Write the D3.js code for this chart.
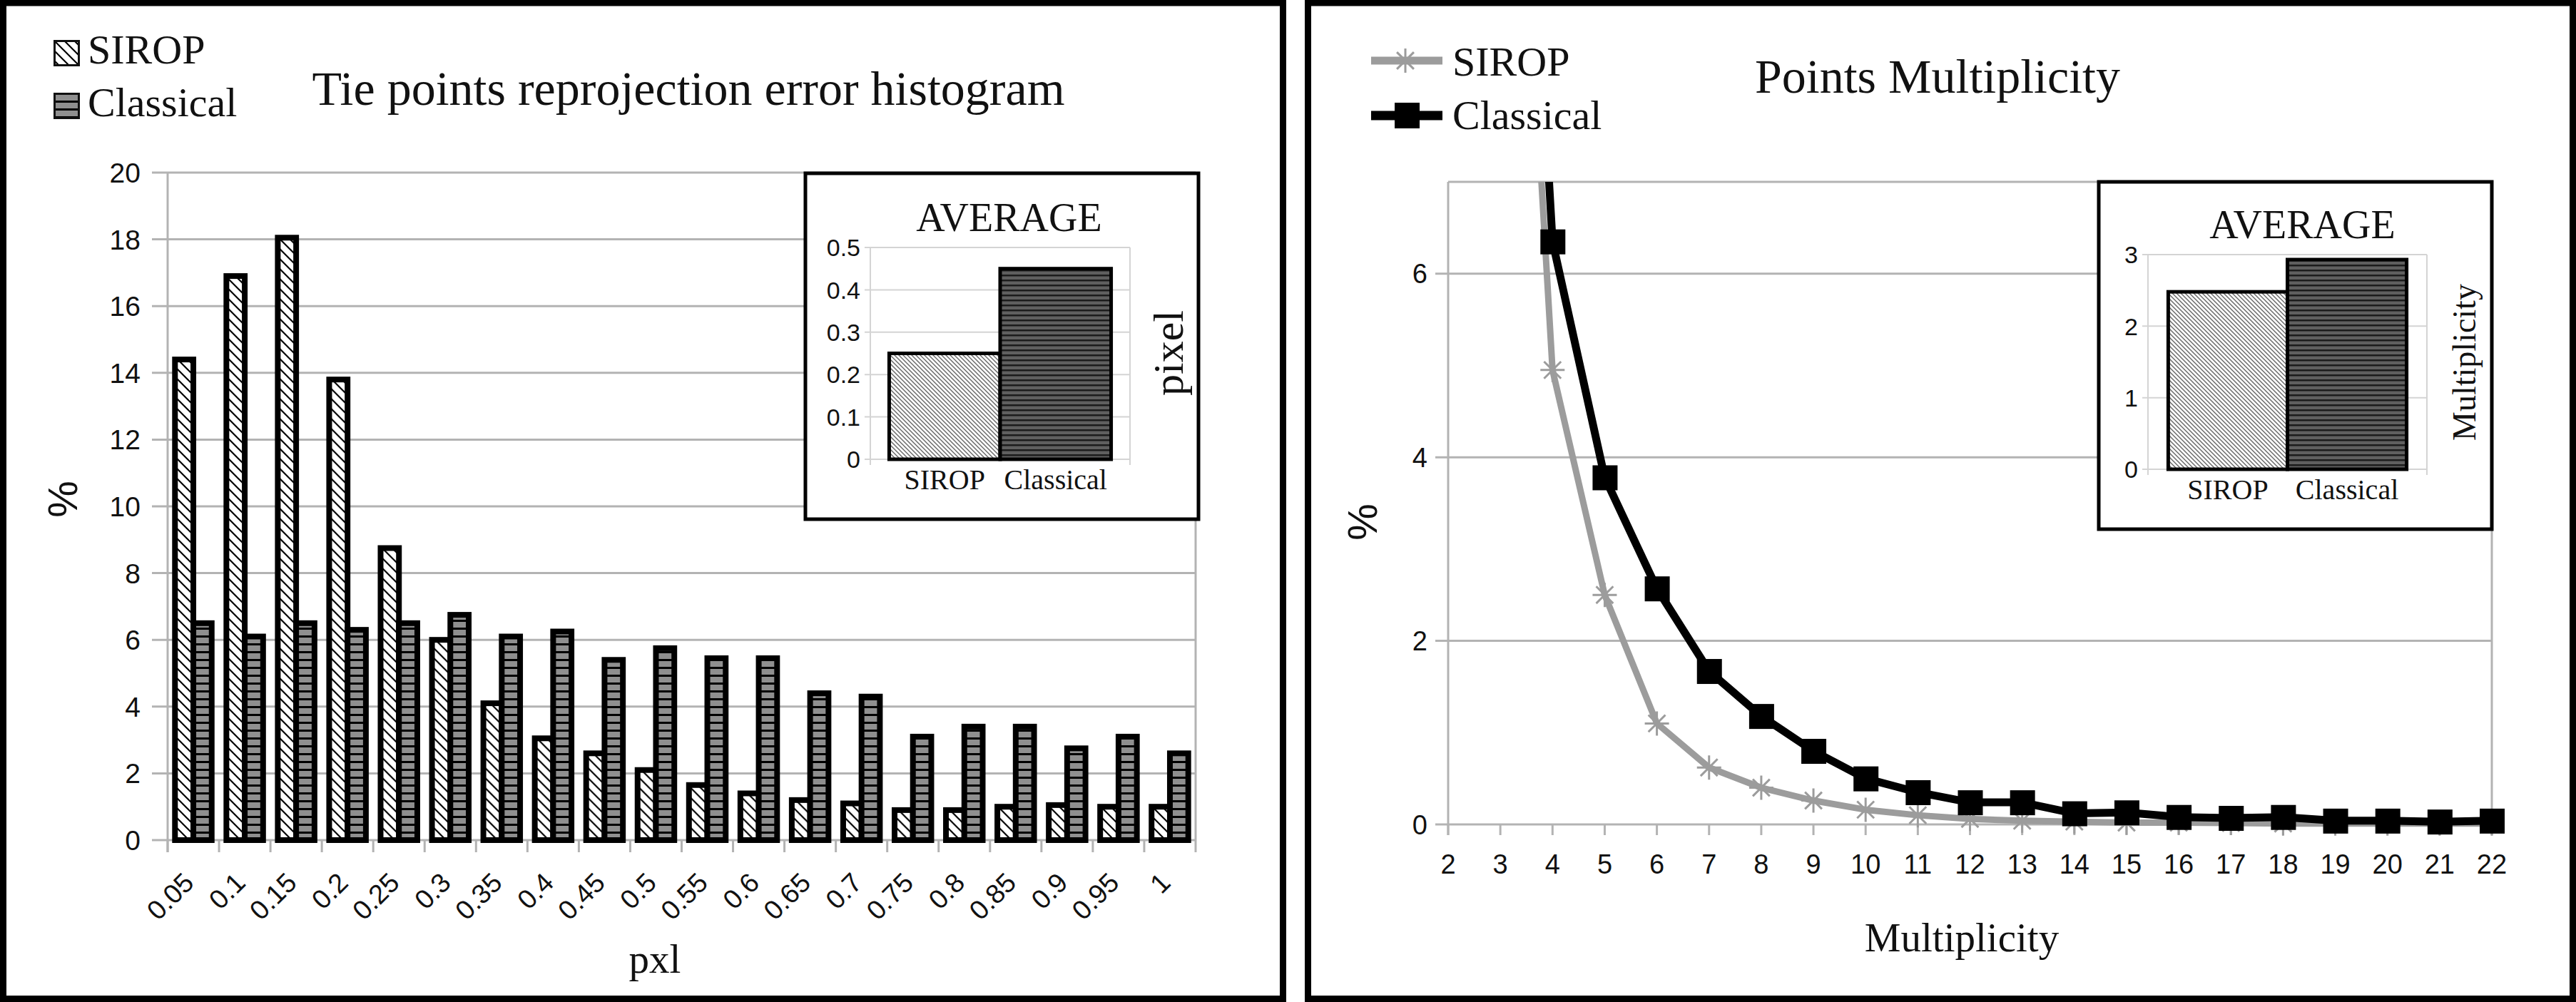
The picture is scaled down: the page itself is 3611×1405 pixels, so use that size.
<!DOCTYPE html>
<html>
<head>
<meta charset="utf-8">
<script src="https://cdn.jsdelivr.net/npm/d3@7"></script>
<style>
body { margin: 0; background: #fff; }
svg { display: block; }
</style>
</head>
<body>
<svg id="chart"></svg>
<script>
var W = 3611, H = 1405;

// ---- data: reprojection error histogram ----
var bins = ["0.05", "0.1", "0.15", "0.2", "0.25", "0.3", "0.35", "0.4", "0.45", "0.5",
            "0.55", "0.6", "0.65", "0.7", "0.75", "0.8", "0.85", "0.9", "0.95", "1"];
var siropHist = [14.4, 16.9, 18.05, 13.8, 8.75, 6.0, 4.1, 3.05, 2.6, 2.1,
                 1.65, 1.4, 1.2, 1.1, 0.9, 0.9, 1.0, 1.05, 1.0, 1.0];
var classicalHist = [6.5, 6.1, 6.5, 6.3, 6.5, 6.75, 6.1, 6.25, 5.4, 5.75,
                     5.45, 5.45, 4.4, 4.3, 3.1, 3.4, 3.4, 2.75, 3.1, 2.6];
var histTicks = [0, 2, 4, 6, 8, 10, 12, 14, 16, 18, 20];

// ---- data: average reprojection error ----
var avgNames = ["SIROP", "Classical"];
var avgError = [0.25, 0.45];
var errTicks = [0, 0.1, 0.2, 0.3, 0.4, 0.5];

// ---- data: points multiplicity ----
var multiplicity = [2, 3, 4, 5, 6, 7, 8, 9, 10, 11, 12, 13, 14, 15, 16, 17, 18, 19, 20, 21, 22];
var siropMult = [75.0, 14.6, 4.95, 2.5, 1.1, 0.62, 0.4, 0.26, 0.16, 0.1, 0.06,
                 0.04, 0.03, 0.02, 0.02, 0.015, 0.01, 0.01, 0.01, 0.01, 0.01];
var classicalMult = [65.5, 16.2, 6.35, 3.78, 2.57, 1.67, 1.18, 0.8, 0.5, 0.35, 0.24,
                     0.24, 0.12, 0.13, 0.08, 0.07, 0.08, 0.04, 0.04, 0.03, 0.04];
var multTicks = [0, 2, 4, 6];

// ---- data: average multiplicity ----
var avgMult = [2.48, 2.93];
var avgMultTicks = [0, 1, 2, 3];

var serif = "'Liberation Serif', 'Times New Roman', serif";
var sans = "'Liberation Sans', Arial, sans-serif";
var gridColor = "#b3b3b3";
var siropGray = "#9c9c9c";

var svg = d3.select("#chart")
    .attr("width", W)
    .attr("height", H)
    .attr("viewBox", "0 0 " + W + " " + H);

// ---- fill patterns ----
var defs = svg.append("defs");

var p = defs.append("pattern").attr("id", "hatchBig")
    .attr("patternUnits", "userSpaceOnUse").attr("width", 14).attr("height", 14);
p.append("rect").attr("width", 14).attr("height", 14).attr("fill", "#fff");
p.append("path").attr("d", "M0,0L14,14M-2,12L2,16M12,-2L16,2")
    .attr("stroke", "#000").attr("stroke-width", 2.2);

p = defs.append("pattern").attr("id", "stripeBig")
    .attr("patternUnits", "userSpaceOnUse").attr("width", 10).attr("height", 11);
p.append("rect").attr("width", 10).attr("height", 11).attr("fill", "#8f8f8f");
p.append("rect").attr("width", 10).attr("height", 3).attr("fill", "#000");

p = defs.append("pattern").attr("id", "hatchSmall")
    .attr("patternUnits", "userSpaceOnUse").attr("width", 6).attr("height", 6);
p.append("rect").attr("width", 6).attr("height", 6).attr("fill", "#fff");
p.append("path").attr("d", "M0,0L6,6M-1,5L1,7M5,-1L7,1")
    .attr("stroke", "#666").attr("stroke-width", 1.4);

p = defs.append("pattern").attr("id", "stripeSmall")
    .attr("patternUnits", "userSpaceOnUse").attr("width", 8).attr("height", 7);
p.append("rect").attr("width", 8).attr("height", 7).attr("fill", "#5f5f5f");
p.append("rect").attr("width", 8).attr("height", 2.5).attr("fill", "#1c1c1c");

defs.append("clipPath").attr("id", "lineClip")
    .append("rect").attr("x", 1900).attr("y", 255).attr("width", 1700).attr("height", 1100);

var fills = { SIROP: "url(#hatchBig)", Classical: "url(#stripeBig)" };
var smallFills = { SIROP: "url(#hatchSmall)", Classical: "url(#stripeSmall)" };

// ---- panel frames ----
svg.append("rect")
    .attr("x", 4.5).attr("y", 4).attr("width", 1794).attr("height", 1396.5)
    .attr("fill", "none").attr("stroke", "#000").attr("stroke-width", 9);
svg.append("rect")
    .attr("x", 1833.5).attr("y", 4).attr("width", 1773).attr("height", 1396.5)
    .attr("fill", "none").attr("stroke", "#000").attr("stroke-width", 9);

function addText(g, x, y, str, size, family, anchor, rotate) {
    var t = g.append("text")
        .attr("font-family", family)
        .attr("font-size", size)
        .attr("fill", "#111")
        .attr("text-anchor", anchor || "start")
        .text(str);
    if (rotate) {
        t.attr("transform", "translate(" + x + "," + y + ") rotate(" + rotate + ")");
    } else {
        t.attr("x", x).attr("y", y);
    }
    return t;
}

// draw a small average bar chart inset
function drawInset(box, plotX, y0, y1, maxV, ticks, values, tickFmt, yLabel, yLabelPos, yLabelSize) {
    var g = svg.append("g");
    g.append("rect")
        .attr("x", box[0]).attr("y", box[1])
        .attr("width", box[2] - box[0]).attr("height", box[3] - box[1])
        .attr("fill", "#fff").attr("stroke", "#000").attr("stroke-width", 5);

    var y = d3.scaleLinear().domain([0, maxV]).range([y0, y1]);
    var x = d3.scaleBand().domain(avgNames).range(plotX).paddingInner(0).paddingOuter(0.17);

    g.selectAll(".ig").data(ticks).enter().append("line")
        .attr("x1", plotX[0] - 8).attr("x2", plotX[1])
        .attr("y1", function (d) { return y(d); })
        .attr("y2", function (d) { return y(d); })
        .attr("stroke", "#d4d4d4").attr("stroke-width", 2);
    g.append("line")
        .attr("x1", plotX[0]).attr("x2", plotX[0]).attr("y1", y1).attr("y2", y0 + 8)
        .attr("stroke", "#d4d4d4").attr("stroke-width", 2);
    g.append("line")
        .attr("x1", plotX[1]).attr("x2", plotX[1]).attr("y1", y1).attr("y2", y0 + 8)
        .attr("stroke", "#d4d4d4").attr("stroke-width", 2);

    g.selectAll(".itl").data(ticks).enter().append("text")
        .attr("x", plotX[0] - 14)
        .attr("y", function (d) { return y(d); })
        .attr("dy", "0.36em")
        .attr("text-anchor", "end")
        .attr("font-family", sans)
        .attr("font-size", 34)
        .attr("fill", "#111")
        .text(tickFmt);

    g.selectAll(".ib").data(avgNames).enter().append("rect")
        .attr("x", function (d) { return x(d); })
        .attr("y", function (d, i) { return y(values[i]); })
        .attr("width", x.bandwidth())
        .attr("height", function (d, i) { return y0 - y(values[i]); })
        .attr("fill", function (d) { return smallFills[d]; })
        .attr("stroke", "#000").attr("stroke-width", 5);

    g.selectAll(".ixl").data(avgNames).enter().append("text")
        .attr("x", function (d) { return x(d) + x.bandwidth() / 2; })
        .attr("y", y0 + 42)
        .attr("text-anchor", "middle")
        .attr("font-family", serif)
        .attr("font-size", 40)
        .attr("fill", "#111")
        .text(function (d) { return d; });

    addText(g, (box[0] + box[2]) / 2 + 10, y1 - 23, "AVERAGE", 56, serif, "middle");
    addText(g, yLabelPos[0], yLabelPos[1], yLabel, yLabelSize, serif, "middle", -90);
}

// ================= LEFT PANEL: histogram =================
(function () {
    var g = svg.append("g");
    var x0 = d3.scaleBand().domain(bins).range([235, 1676]).padding(0);
    var x1 = d3.scaleBand().domain(avgNames).range([0, x0.bandwidth()])
        .paddingInner(0).paddingOuter(0.4);
    var y = d3.scaleLinear().domain([0, 20]).range([1178, 242]);

    // grid + tick marks
    g.selectAll(".grid").data(histTicks).enter().append("line")
        .attr("x1", 213).attr("x2", 1676)
        .attr("y1", function (d) { return y(d); })
        .attr("y2", function (d) { return y(d); })
        .attr("stroke", gridColor).attr("stroke-width", 3);
    g.append("line").attr("x1", 235).attr("x2", 235).attr("y1", y(20)).attr("y2", 1195)
        .attr("stroke", gridColor).attr("stroke-width", 3);
    g.append("line").attr("x1", 1676).attr("x2", 1676).attr("y1", y(20)).attr("y2", 1195)
        .attr("stroke", gridColor).attr("stroke-width", 3);
    g.selectAll(".xt").data(bins).enter().append("line")
        .attr("x1", function (d) { return x0(d); })
        .attr("x2", function (d) { return x0(d); })
        .attr("y1", 1178).attr("y2", 1195)
        .attr("stroke", gridColor).attr("stroke-width", 3);

    // y tick labels
    g.selectAll(".yl").data(histTicks).enter().append("text")
        .attr("x", 197)
        .attr("y", function (d) { return y(d); })
        .attr("dy", "0.36em")
        .attr("text-anchor", "end")
        .attr("font-family", sans)
        .attr("font-size", 39)
        .attr("fill", "#111")
        .text(function (d) { return d; });

    // bars
    var groups = g.selectAll(".bin").data(bins).enter().append("g")
        .attr("transform", function (d) { return "translate(" + x0(d) + ",0)"; });
    groups.selectAll("rect")
        .data(function (d, i) {
            return [{ s: "SIROP", v: siropHist[i] }, { s: "Classical", v: classicalHist[i] }];
        })
        .enter().append("rect")
        .attr("x", function (d) { return x1(d.s); })
        .attr("y", function (d) { return y(d.v); })
        .attr("width", x1.bandwidth())
        .attr("height", function (d) { return y(0) - y(d.v); })
        .attr("fill", function (d) { return fills[d.s]; })
        .attr("stroke", "#000").attr("stroke-width", 8);

    // x tick labels, rotated
    g.selectAll(".xl").data(bins).enter().append("text")
        .attr("transform", function (d) {
            return "translate(" + (x0(d) + x0.bandwidth() / 2 + 3) + ",1240) rotate(-45)";
        })
        .attr("text-anchor", "end")
        .attr("font-family", sans)
        .attr("font-size", 38)
        .attr("fill", "#111")
        .text(function (d) { return d; });

    addText(g, 965, 147, "Tie points reprojection error histogram", 68, serif, "middle");
    addText(g, 918, 1364, "pxl", 57, serif, "middle");
    addText(g, 108, 700, "%", 58, sans, "middle", -90);

    // legend
    var leg = g.selectAll(".leg").data(avgNames).enter().append("g")
        .attr("transform", function (d, i) { return "translate(75," + (56 + i * 74) + ")"; });
    leg.append("rect")
        .attr("x", 1.5).attr("y", 1.5).attr("width", 34).attr("height", 34)
        .attr("fill", function (d) { return fills[d]; })
        .attr("stroke", "#111").attr("stroke-width", 3);
    leg.append("text")
        .attr("x", 48).attr("y", 33)
        .attr("font-family", serif).attr("font-size", 58).attr("fill", "#111")
        .text(function (d) { return d; });

    drawInset([1129, 243, 1680, 728], [1220, 1584], 644, 347, 0.5, errTicks, avgError,
        function (d) { return d === 0 ? "0" : d3.format(".1f")(d); },
        "pixel", [1658, 495], 60);
})();

// ================= RIGHT PANEL: multiplicity =================
(function () {
    var g = svg.append("g");
    var x = d3.scalePoint().domain(multiplicity).range([2030, 3493]);
    var y = d3.scaleLinear().domain([0, 7]).range([1156, 255]);

    g.selectAll(".grid").data(multTicks).enter().append("line")
        .attr("x1", 2012).attr("x2", 3493)
        .attr("y1", function (d) { return y(d); })
        .attr("y2", function (d) { return y(d); })
        .attr("stroke", gridColor).attr("stroke-width", 3);
    g.append("line").attr("x1", 2030).attr("x2", 3493).attr("y1", y(7)).attr("y2", y(7))
        .attr("stroke", gridColor).attr("stroke-width", 3);
    g.append("line").attr("x1", 2030).attr("x2", 2030).attr("y1", y(7)).attr("y2", 1171)
        .attr("stroke", gridColor).attr("stroke-width", 3);
    g.append("line").attr("x1", 3493).attr("x2", 3493).attr("y1", y(7)).attr("y2", 1171)
        .attr("stroke", gridColor).attr("stroke-width", 3);
    g.selectAll(".xt").data(multiplicity).enter().append("line")
        .attr("x1", function (d) { return x(d); })
        .attr("x2", function (d) { return x(d); })
        .attr("y1", 1156).attr("y2", 1171)
        .attr("stroke", gridColor).attr("stroke-width", 3);

    g.selectAll(".yl").data(multTicks).enter().append("text")
        .attr("x", 2001)
        .attr("y", function (d) { return y(d); })
        .attr("dy", "0.36em")
        .attr("text-anchor", "end")
        .attr("font-family", sans)
        .attr("font-size", 38)
        .attr("fill", "#111")
        .text(function (d) { return d; });

    g.selectAll(".xl").data(multiplicity).enter().append("text")
        .attr("x", function (d) { return x(d); })
        .attr("y", 1225)
        .attr("text-anchor", "middle")
        .attr("font-family", sans)
        .attr("font-size", 38)
        .attr("fill", "#111")
        .text(function (d) { return d; });

    addText(g, 2716, 130, "Points Multiplicity", 68, serif, "middle");
    addText(g, 2750, 1334, "Multiplicity", 57, serif, "middle");
    addText(g, 1930, 732, "%", 58, sans, "middle", -90);

    function starPath(s) {
        var k = s * 0.7;
        return "M0," + (-s) + "L0," + s + "M" + (-s) + ",0L" + s + ",0" +
            "M" + (-k) + "," + (-k) + "L" + k + "," + k +
            "M" + (-k) + "," + k + "L" + k + "," + (-k);
    }

    // straight segments between points, as in the original
    var line = d3.line()
        .x(function (d, i) { return x(multiplicity[i]); })
        .y(function (d) { return y(d); })
        .curve(d3.curveLinear);

    var plot = g.append("g").attr("clip-path", "url(#lineClip)");

    plot.append("path").datum(siropMult)
        .attr("d", line).attr("fill", "none")
        .attr("stroke", siropGray).attr("stroke-width", 9)
        .attr("stroke-linejoin", "round");
    plot.selectAll(".sm").data(siropMult).enter().append("path")
        .attr("transform", function (d, i) {
            return "translate(" + x(multiplicity[i]) + "," + y(d) + ")";
        })
        .attr("d", starPath(17))
        .attr("fill", "none").attr("stroke", siropGray).attr("stroke-width", 3);

    plot.append("path").datum(classicalMult)
        .attr("d", line).attr("fill", "none")
        .attr("stroke", "#000").attr("stroke-width", 11)
        .attr("stroke-linejoin", "round");
    plot.selectAll(".cm").data(classicalMult).enter().append("rect")
        .attr("x", function (d, i) { return x(multiplicity[i]) - 17; })
        .attr("y", function (d) { return y(d) - 17; })
        .attr("width", 35).attr("height", 35)
        .attr("fill", "#000");

    // legend
    var lg = g.append("g");
    lg.append("line").attr("x1", 1922).attr("x2", 2022).attr("y1", 85).attr("y2", 85)
        .attr("stroke", siropGray).attr("stroke-width", 11);
    lg.append("path").attr("transform", "translate(1970,85)").attr("d", starPath(17))
        .attr("fill", "none").attr("stroke", siropGray).attr("stroke-width", 3);
    lg.append("line").attr("x1", 1922).attr("x2", 2022).attr("y1", 162).attr("y2", 162)
        .attr("stroke", "#000").attr("stroke-width", 13);
    lg.append("rect").attr("x", 1955).attr("y", 144).attr("width", 35).attr("height", 36)
        .attr("fill", "#000");
    addText(lg, 2036, 106, "SIROP", 58, serif, "start");
    addText(lg, 2036, 181, "Classical", 58, serif, "start");

    drawInset([2942, 255, 3493, 742], [3011, 3402], 658, 357, 3, avgMultTicks, avgMult,
        function (d) { return d; },
        "Multiplicity", [3470, 508], 46);
})();
</script>
</body>
</html>
